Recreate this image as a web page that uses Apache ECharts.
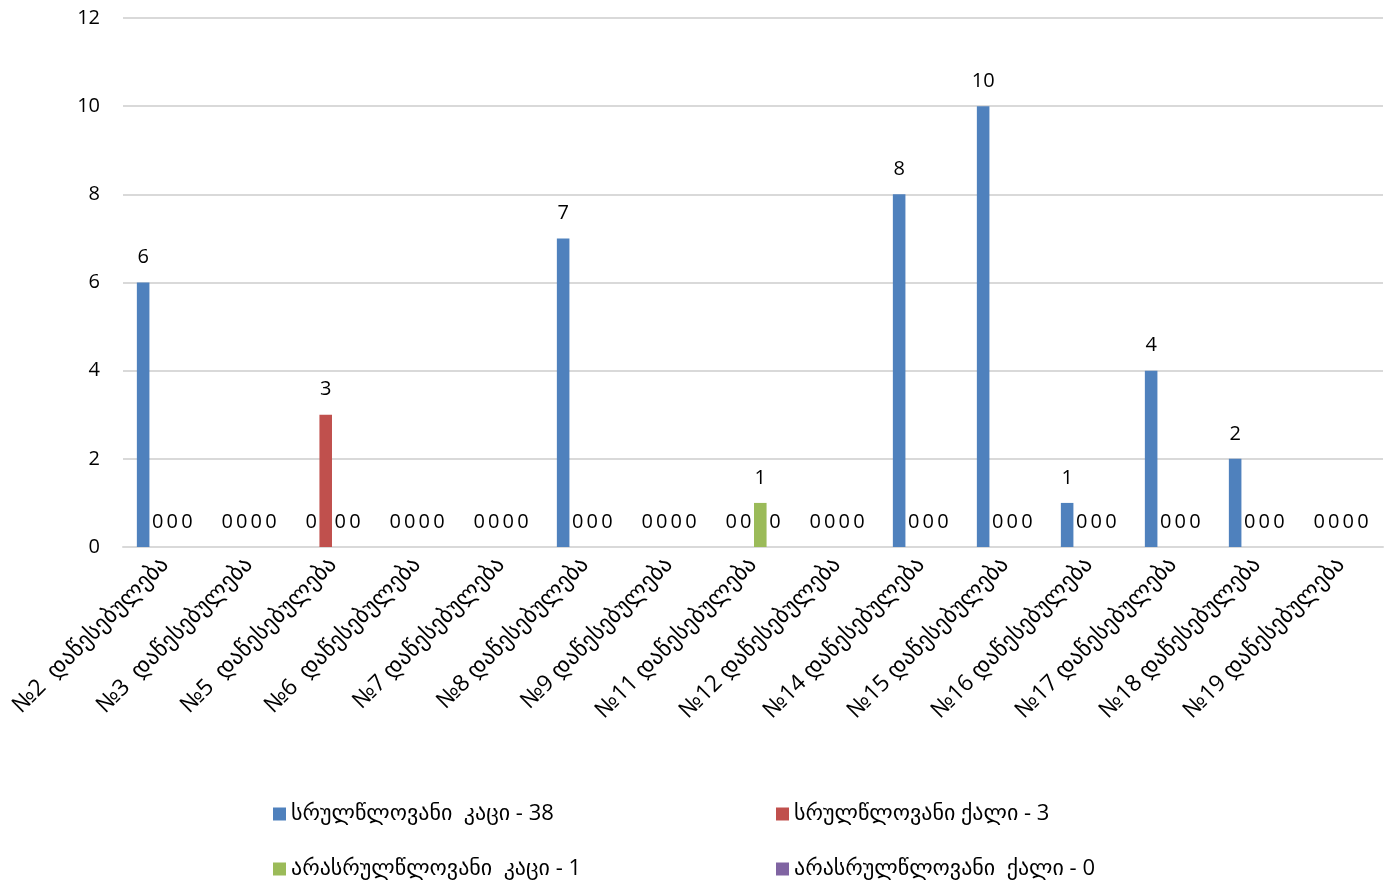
<!DOCTYPE html>
<html>
<head>
<meta charset="utf-8">
<script src="https://cdn.jsdelivr.net/npm/echarts@6/dist/echarts.min.js"></script>
<style>html,body{margin:0;padding:0;background:#fff}#c{width:1391px;height:886px}</style>
</head>
<body>
<div id="c"></div>
<script>
const categories = ['№2  დაწესებულება','№3  დაწესებულება','№5  დაწესებულება','№6  დაწესებულება','№7 დაწესებულება','№8 დაწესებულება','№9 დაწესებულება','№11 დაწესებულება','№12 დაწესებულება','№14 დაწესებულება','№15 დაწესებულება','№16 დაწესებულება','№17 დაწესებულება','№18 დაწესებულება','№19 დაწესებულება'];
const seriesNames = ['სრულწლოვანი  კაცი - 38','სრულწლოვანი ქალი - 3','არასრულწლოვანი  კაცი - 1','არასრულწლოვანი  ქალი - 0'];
const adultMen     = [6,0,0,0,0,7,0,0,0,8,10,1,4,2,0];
const adultWomen   = [0,0,3,0,0,0,0,0,0,0,0,0,0,0,0];
const minorMen     = [0,0,0,0,0,0,0,1,0,0,0,0,0,0,0];
const minorWomen   = [0,0,0,0,0,0,0,0,0,0,0,0,0,0,0];
const yTicks = {min:0, max:12, interval:2};

const colors = ['#4f81bd','#c0504d','#9bbb59','#8064a2'];
const font = '"Open Sans", "DejaVu Sans", sans-serif';
const allData = [adultMen, adultWomen, minorMen, minorWomen];

const legendPos = [[273,803],[776,803],[273,858],[776,858]];

const chart = echarts.init(document.getElementById('c'));
chart.setOption({
  animation:false,
  color: colors,
  textStyle:{fontFamily:font},
  grid:{left:123, right:8, top:18, bottom:339, containLabel:false},
  legend: seriesNames.map((n,i)=>({
    data:[n], left:legendPos[i][0], top:legendPos[i][1], padding:0,
    icon:'rect', itemWidth:13, itemHeight:13, itemGap:5,
    textStyle:{fontSize:22, color:'#000', fontFamily:font}
  })),
  xAxis:{
    type:'category', data:categories,
    axisLine:{lineStyle:{color:'#d9d9d9', width:2}},
    axisTick:{show:false},
    axisLabel:{rotate:45, interval:0, fontSize:23, color:'#000', margin:14, fontFamily:font}
  },
  yAxis:{
    type:'value', min:yTicks.min, max:yTicks.max, interval:yTicks.interval,
    axisLine:{show:false}, axisTick:{show:false},
    splitLine:{lineStyle:{color:'#d9d9d9', width:2}},
    axisLabel:{fontSize:20, color:'#000', margin:23, fontFamily:font}
  },
  series: seriesNames.map((n,i)=>({
    name:n, type:'bar', data:allData[i],
    barCategoryGap:'33%', barGap:'16%',
    itemStyle:{color:colors[i]},
    label:{show:true, position:'top', distance:15, fontSize:20, color:'#000', fontFamily:font}
  }))
});
</script>
</body>
</html>
